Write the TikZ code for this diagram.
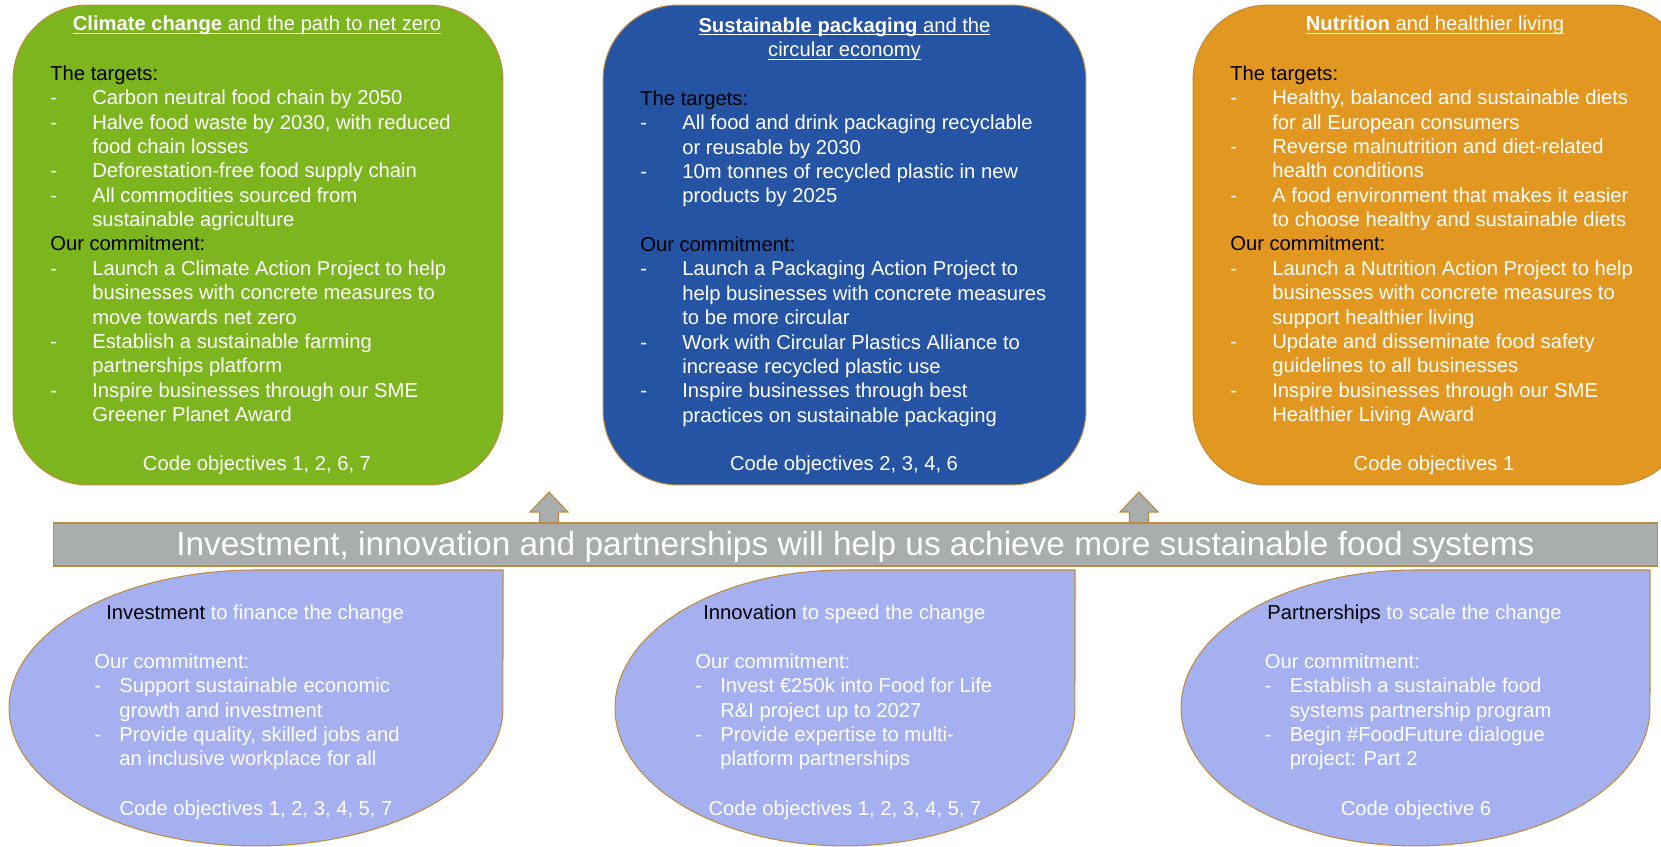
\documentclass[tikz,border=0pt]{standalone}
\usepackage{fontspec}
\setmainfont{Liberation Sans}
\usetikzlibrary{positioning}

\definecolor{climgreen}{RGB}{125,181,30}
\definecolor{packblue}{RGB}{38,84,164}
\definecolor{nutrorange}{RGB}{226,152,32}
\definecolor{droplav}{RGB}{165,176,240}
\definecolor{bannergray}{RGB}{170,173,173}
\definecolor{edgebrown}{RGB}{190,140,60}

\newcommand{\ditem}[2][0.84cm]{\makebox[#1][l]{-}#2}
\newcommand{\dcont}[2][0.84cm]{\hspace*{#1}#2}
\newcommand{\titleline}[1]{\setbox0\hbox{#1}\rlap{\rule[-1.6pt]{\wd0}{0.6pt}}\box0}

\begin{document}
\begin{tikzpicture}[
    x=0.02cm, y=-0.02cm,
    font=\fontsize{11.5}{13.86}\selectfont,
    topbox/.style={draw=edgebrown,line width=0.6pt,rounded corners=1.5cm,inner sep=0pt},
    dropshape/.style={draw=edgebrown,fill=droplav,line width=0.6pt},
    bodytext/.style={text=white,align=left,inner sep=0pt,anchor=north west},
    titletext/.style={text=white,inner sep=0pt,anchor=base},
    uparrow/.style={draw=edgebrown,fill=bannergray,line width=0.6pt}
    ]

    \useasboundingbox (0,0) rectangle (1661,847);
    \clip (0,0) rectangle (1661,847);

    % top boxes:
    \node (clim) [topbox,fill=climgreen,minimum width=9.8cm,minimum height=9.6cm] at (258,245) {};
    \node (pack) [topbox,fill=packblue,minimum width=9.66cm,minimum height=9.6cm] at (844.5,245) {};
    \node (nutr) [topbox,fill=nutrorange,minimum width=9.9cm,minimum height=9.6cm] at (1440.5,245) {};

    % titles:
    \node (climtitle) [titletext] at (257,31)
      {\titleline{\textbf{Climate change} and the path to net zero}};
    \node (packtitle) [titletext,align=center,anchor=north] at (844.5,17.5)
      {\titleline{\textbf{Sustainable packaging} and the}\\\titleline{circular economy}};
    \node (nutrtitle) [titletext] at (1435,31)
      {\titleline{\textbf{Nutrition} and healthier living}};

    % green text:
    \node (climbody) [bodytext] at (50,65.5) {%
      \textcolor{black}{The targets:}\\
      \ditem{Carbon neutral food chain by 2050}\\
      \ditem{Halve food waste by 2030, with reduced}\\
      \dcont{food chain losses}\\
      \ditem{Deforestation-free food supply chain}\\
      \ditem{All commodities sourced from}\\
      \dcont{sustainable agriculture}\\
      \textcolor{black}{Our commitment:}\\
      \ditem{Launch a Climate Action Project to help}\\
      \dcont{businesses with concrete measures to}\\
      \dcont{move towards net zero}\\
      \ditem{Establish a sustainable farming}\\
      \dcont{partnerships platform}\\
      \ditem{Inspire businesses through our SME}\\
      \dcont{Greener Planet Award}};

    % blue text:
    \node (packbody) [bodytext] at (640,90.5) {%
      \textcolor{black}{The targets:}\\
      \ditem{All food and drink packaging recyclable}\\
      \dcont{or reusable by 2030}\\
      \ditem{10m tonnes of recycled plastic in new}\\
      \dcont{products by 2025}\\[13.86pt]
      \textcolor{black}{Our commitment:}\\
      \ditem{Launch a Packaging Action Project to}\\
      \dcont{help businesses with concrete measures}\\
      \dcont{to be more circular}\\
      \ditem{Work with Circular Plastics Alliance to}\\
      \dcont{increase recycled plastic use}\\
      \ditem{Inspire businesses through best}\\
      \dcont{practices on sustainable packaging}};

    % orange text:
    \node (nutrbody) [bodytext] at (1230,65.5) {%
      \textcolor{black}{The targets:}\\
      \ditem{Healthy, balanced and sustainable diets}\\
      \dcont{for all European consumers}\\
      \ditem{Reverse malnutrition and diet-related}\\
      \dcont{health conditions}\\
      \ditem{A food environment that makes it easier}\\
      \dcont{to choose healthy and sustainable diets}\\
      \textcolor{black}{Our commitment:}\\
      \ditem{Launch a Nutrition Action Project to help}\\
      \dcont{businesses with concrete measures to}\\
      \dcont{support healthier living}\\
      \ditem{Update and disseminate food safety}\\
      \dcont{guidelines to all businesses}\\
      \ditem{Inspire businesses through our SME}\\
      \dcont{Healthier Living Award}};

    \node (climcode) [titletext] at (257,470.5) {Code objectives 1, 2, 6, 7};
    \node (packcode) [titletext] at (844,470.5) {Code objectives 2, 3, 4, 6};
    \node (nutrcode) [titletext] at (1434,470.5) {Code objectives 1};

    % arrows and banner:
    \foreach \ax in {549,1139}
      \draw [uparrow] (\ax-9.5,526) -- (\ax-9.5,512) -- (\ax-19,512) -- (\ax,492)
        -- (\ax+19,512) -- (\ax+9.5,512) -- (\ax+9.5,526) -- cycle;

    \node (banner) [draw=edgebrown,fill=bannergray,line width=0.6pt,inner sep=0pt,
      minimum width=32.1cm,minimum height=0.86cm] at (855.5,544.5) {};
    \node (bannertext) [titletext,font=\fontsize{19}{22.8}\selectfont] at (855.5,556)
      {Investment, innovation and partnerships will help us achieve more sustainable food systems};

    % bottom drops:
    \draw [dropshape] (503,570) -- (256,570)
      arc[start angle=90,end angle=360,x radius=4.94cm,y radius=2.76cm] -- cycle;
    \draw [dropshape] (1075,570) -- (845,570)
      arc[start angle=90,end angle=360,x radius=4.6cm,y radius=2.76cm] -- cycle;
    \draw [dropshape] (1650,570) -- (1415.5,570)
      arc[start angle=90,end angle=360,x radius=4.69cm,y radius=2.76cm] -- cycle;

    \node (invtitle) [titletext,anchor=base west] at (106,619.3)
      {\textcolor{black}{Investment} to finance the change};
    \node (invbody) [bodytext] at (94,653.6) {%
      Our commitment:\\
      \ditem[0.5cm]{Support sustainable economic}\\
      \dcont[0.5cm]{growth and investment}\\
      \ditem[0.5cm]{Provide quality, skilled jobs and}\\
      \dcont[0.5cm]{an inclusive workplace for all}};
    \node (invcode) [titletext] at (256,815) {Code objectives 1, 2, 3, 4, 5, 7};

    \node (innotitle) [titletext,anchor=base west] at (703,619.3)
      {\textcolor{black}{Innovation} to speed the change};
    \node (innobody) [bodytext] at (695,653.6) {%
      Our commitment:\\
      \ditem[0.5cm]{Invest €250k into Food for Life}\\
      \dcont[0.5cm]{R\&I project up to 2027}\\
      \ditem[0.5cm]{Provide expertise to multi-}\\
      \dcont[0.5cm]{platform partnerships}};
    \node (innocode) [titletext] at (845,815) {Code objectives 1, 2, 3, 4, 5, 7};

    \node (parttitle) [titletext,anchor=base west] at (1267,619.3)
      {\textcolor{black}{Partnerships} to scale the change};
    \node (partbody) [bodytext] at (1264.5,653.6) {%
      Our commitment:\\
      \ditem[0.5cm]{Establish a sustainable food}\\
      \dcont[0.5cm]{systems partnership program}\\
      \ditem[0.5cm]{Begin \#FoodFuture dialogue}\\
      \dcont[0.5cm]{project: Part 2}};
    \node (partcode) [titletext] at (1416,815) {Code objective 6};

  \end{tikzpicture}
\end{document}
